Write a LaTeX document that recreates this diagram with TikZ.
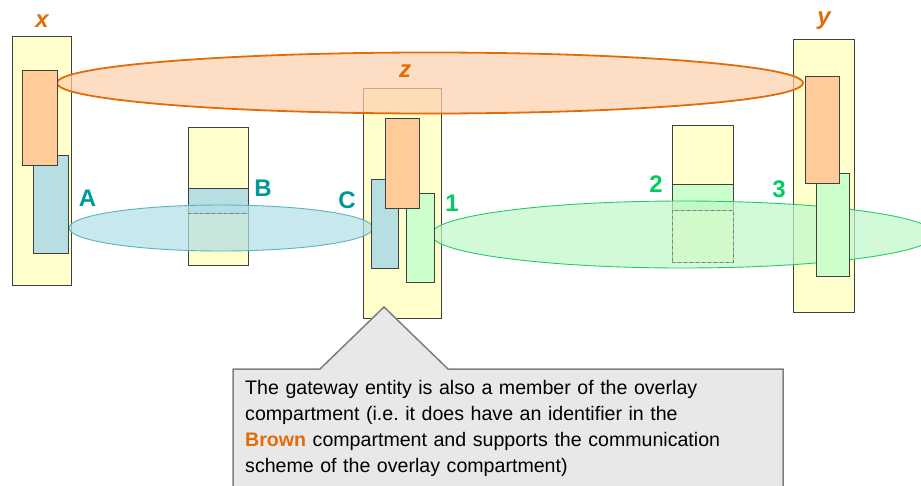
\documentclass[tikz,border=0pt]{standalone}
\usepackage{fontspec}
\setmainfont{Liberation Sans}
\usetikzlibrary{shapes.geometric}

\definecolor{ylw}{HTML}{FFFFCC}
\definecolor{peach}{HTML}{FFCC99}
\definecolor{aqua}{HTML}{B7DEE1}
\definecolor{mint}{HTML}{CCFFCC}
\definecolor{brownc}{HTML}{E36C09}
\definecolor{brownfill}{HTML}{FCD1AD}
\definecolor{tealc}{HTML}{009999}
\definecolor{tealline}{HTML}{5AB3BE}
\definecolor{tealfill}{HTML}{B2DFE4}
\definecolor{greenc}{HTML}{00CC66}
\definecolor{greenline}{HTML}{22CC66}
\definecolor{greenfill}{HTML}{C0F7C9}
\definecolor{boxline}{HTML}{404040}
\definecolor{notefill}{HTML}{E8E8E8}
\definecolor{noteline}{HTML}{7F7F7F}

\tikzset{
  ent/.style={draw=boxline, line width=0.9pt, inner sep=0pt, outer sep=0pt, anchor=north west},
  compart/.style={ellipse, inner sep=0pt, outer sep=0pt, fill opacity=0.72},
  tag/.style={font=\fontsize{24}{24}\selectfont\bfseries},
  hostname/.style={font=\fontsize{24}{24}\selectfont\bfseries\itshape, text=brownc},
}

\begin{document}
\begin{tikzpicture}[x=1pt,y=-1pt]
\useasboundingbox (0,0) rectangle (921,485);
\clip (0,0) rectangle (921,485);

% hosts and plain entities
\node[ent, fill=ylw, minimum width=59pt, minimum height=249pt] (xbox) at (12,36) {};
\node[ent, fill=ylw, minimum width=60pt, minimum height=138pt] (bbox) at (188,127) {};
\node[ent, fill=aqua, minimum width=60pt, minimum height=25pt] (bstrip) at (188,188) {};
\node[ent, fill=ylw, minimum width=78pt, minimum height=230pt] (zbox) at (363,88) {};
\node[ent, fill=ylw, minimum width=61pt, minimum height=137pt] (twobox) at (672,125) {};
\node[ent, fill=mint, minimum width=61pt, minimum height=26pt] (twostrip) at (672,184) {};
\node[ent, fill=ylw, minimum width=61pt, minimum height=273pt] (ybox) at (793,39) {};

% compartments
\node[compart, fill=brownfill, draw=brownc, line width=1.8pt,
      minimum width=746pt, minimum height=61pt] (brown) at (430,83) {};
\node[compart, fill=tealfill, draw=tealline, line width=0.9pt,
      minimum width=304pt, minimum height=46pt] (blue) at (221,228) {};
\node[compart, fill=greenfill, draw=greenline, line width=0.9pt,
      minimum width=504pt, minimum height=67pt] (green) at (683,234.5) {};

% hidden edges under the compartments
\draw[noteline, dashed, line width=0.6pt] (bstrip.south west) -- (bstrip.south east);
\node[draw=noteline, dashed, line width=0.6pt, inner sep=0pt, outer sep=0pt, anchor=north west,
      minimum width=61pt, minimum height=52pt] (twohidden) at (672,210) {};

% entity parts inside the hosts
\node[ent, fill=aqua, minimum width=35pt, minimum height=98pt] (xblue) at (33,155) {};
\node[ent, fill=peach, minimum width=35pt, minimum height=95pt] (xorange) at (22,70) {};
\node[ent, fill=aqua, minimum width=27pt, minimum height=89pt] (zblue) at (371,179) {};
\node[ent, fill=mint, minimum width=28pt, minimum height=89pt] (zgreen) at (406,193) {};
\node[ent, fill=peach, minimum width=34pt, minimum height=90pt] (zorange) at (385,118) {};
\node[ent, fill=mint, minimum width=33pt, minimum height=103pt] (ygreen) at (816,173) {};
\node[ent, fill=peach, minimum width=34pt, minimum height=107pt] (yorange) at (805,76) {};

% labels
\node[hostname] (xl) at (42,21) {x};
\node[hostname] (zl) at (405,71) {z};
\node[hostname] (yl) at (824,21) {y};
\node[tag, text=tealc] (la) at (87.5,198) {A};
\node[tag, text=tealc] (lb) at (263,188) {B};
\node[tag, text=tealc] (lc) at (347,200) {C};
\node[tag, text=greenc] (l1) at (452,203) {1};
\node[tag, text=greenc] (l2) at (656,184) {2};
\node[tag, text=greenc] (l3) at (779,189) {3};

% callout
\coordinate (tip) at (384,307);
\draw[fill=notefill, draw=noteline, line width=1.5pt, line join=miter]
  (233,369) -- (320,369) -- (tip) -- (448,369) -- (783,369) -- (783,500) -- (233,500) -- cycle;
\node[anchor=north west, inner sep=0pt, text width=530pt, align=left,
      font=\fontsize{19.6}{25.9}\selectfont] (note) at (245,380)
  {The gateway entity is also a member of the overlay\\
   compartment (i.e.\ it does have an identifier in the\\
   \textcolor{brownc}{\bfseries Brown} compartment and supports the communication\\
   scheme of the overlay compartment)};
\end{tikzpicture}
\end{document}
